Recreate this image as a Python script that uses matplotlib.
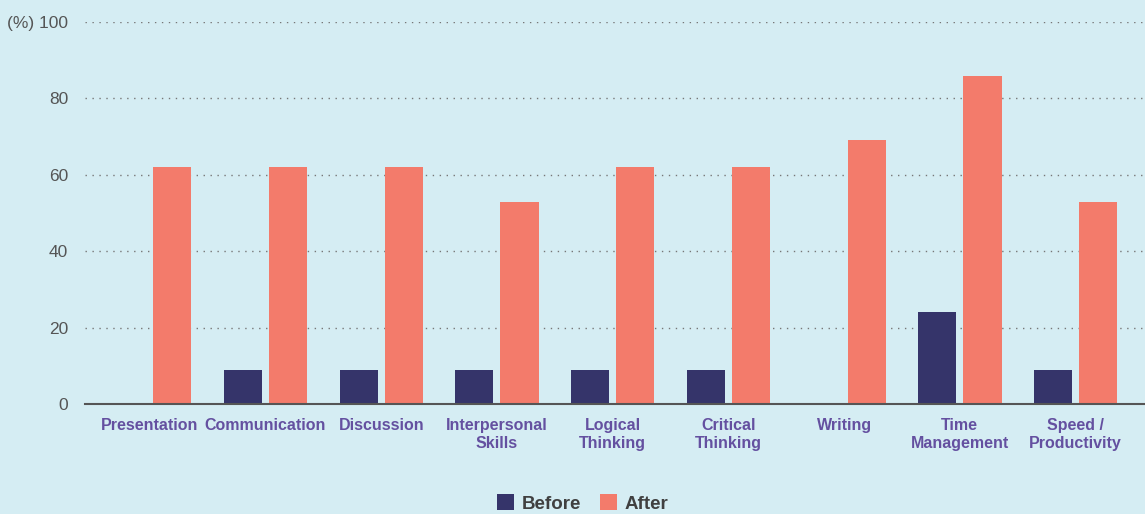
"""
Before / After skill ratings bar chart
"""

import numpy as np
import matplotlib.pyplot as plt

categories = ['Presentation', 'Communication', 'Discussion', 'Interpersonal\nSkills',
              'Logical\nThinking', 'Critical\nThinking', 'Writing', 'Time\nManagement',
              'Speed /\nProductivity']
before = [0, 9, 9, 9, 9, 9, 0, 24, 9]
after = [62, 62, 62, 53, 62, 62, 69, 86, 53]
yticks = [0, 20, 40, 60, 80, 100]
ytick_labels = ['0', '20', '40', '60', '80', '(%) 100']

bg = '#d5edf3'
navy = '#35346a'
salmon = '#f37b6b'

plt.rcParams['font.family'] = ['Liberation Sans', 'DejaVu Sans']

fig = plt.figure(figsize=(11.45, 5.14), dpi=100, facecolor=bg)
ax = fig.add_axes([0.0742, 0.214, 0.9258, 0.743])
ax.set_facecolor(bg)

x = np.arange(len(categories))
w = 0.33
ax.bar(x - 0.195, before, w, color=navy, label='Before', zorder=3)
ax.bar(x + 0.195, after, w, color=salmon, label='After', zorder=3)

ax.set_xlim(-0.56, len(categories) - 1 + 0.6)
ax.set_ylim(0, 100)
ax.set_yticks(yticks)
ax.set_yticklabels(ytick_labels, color='#555555', fontsize=12.5)
ax.set_xticks(x)
ax.set_xticklabels(categories, color='#6450a0', fontsize=11.5, fontweight='bold',
                   linespacing=1.25, va='top')
ax.tick_params(axis='both', length=0)
ax.tick_params(axis='y', pad=12)
ax.tick_params(axis='x', pad=10)

ax.grid(axis='y', linestyle=(0, (1, 4)), color='#777777', linewidth=1, zorder=0)
for s in ['top', 'right', 'left']:
    ax.spines[s].set_visible(False)
ax.spines['bottom'].set_color('#555555')
ax.spines['bottom'].set_linewidth(1.5)
ax.spines['bottom'].set_zorder(4)

leg = fig.legend(loc='lower center', bbox_to_anchor=(0.509, -0.03), ncol=2, frameon=False,
                 handlelength=0.9, handleheight=0.9, handletextpad=0.4, columnspacing=1.0,
                 prop={'weight': 'bold', 'size': 13.5})
for t in leg.get_texts():
    t.set_color('#404040')

fig.savefig('out.png', dpi=100, facecolor=bg)
